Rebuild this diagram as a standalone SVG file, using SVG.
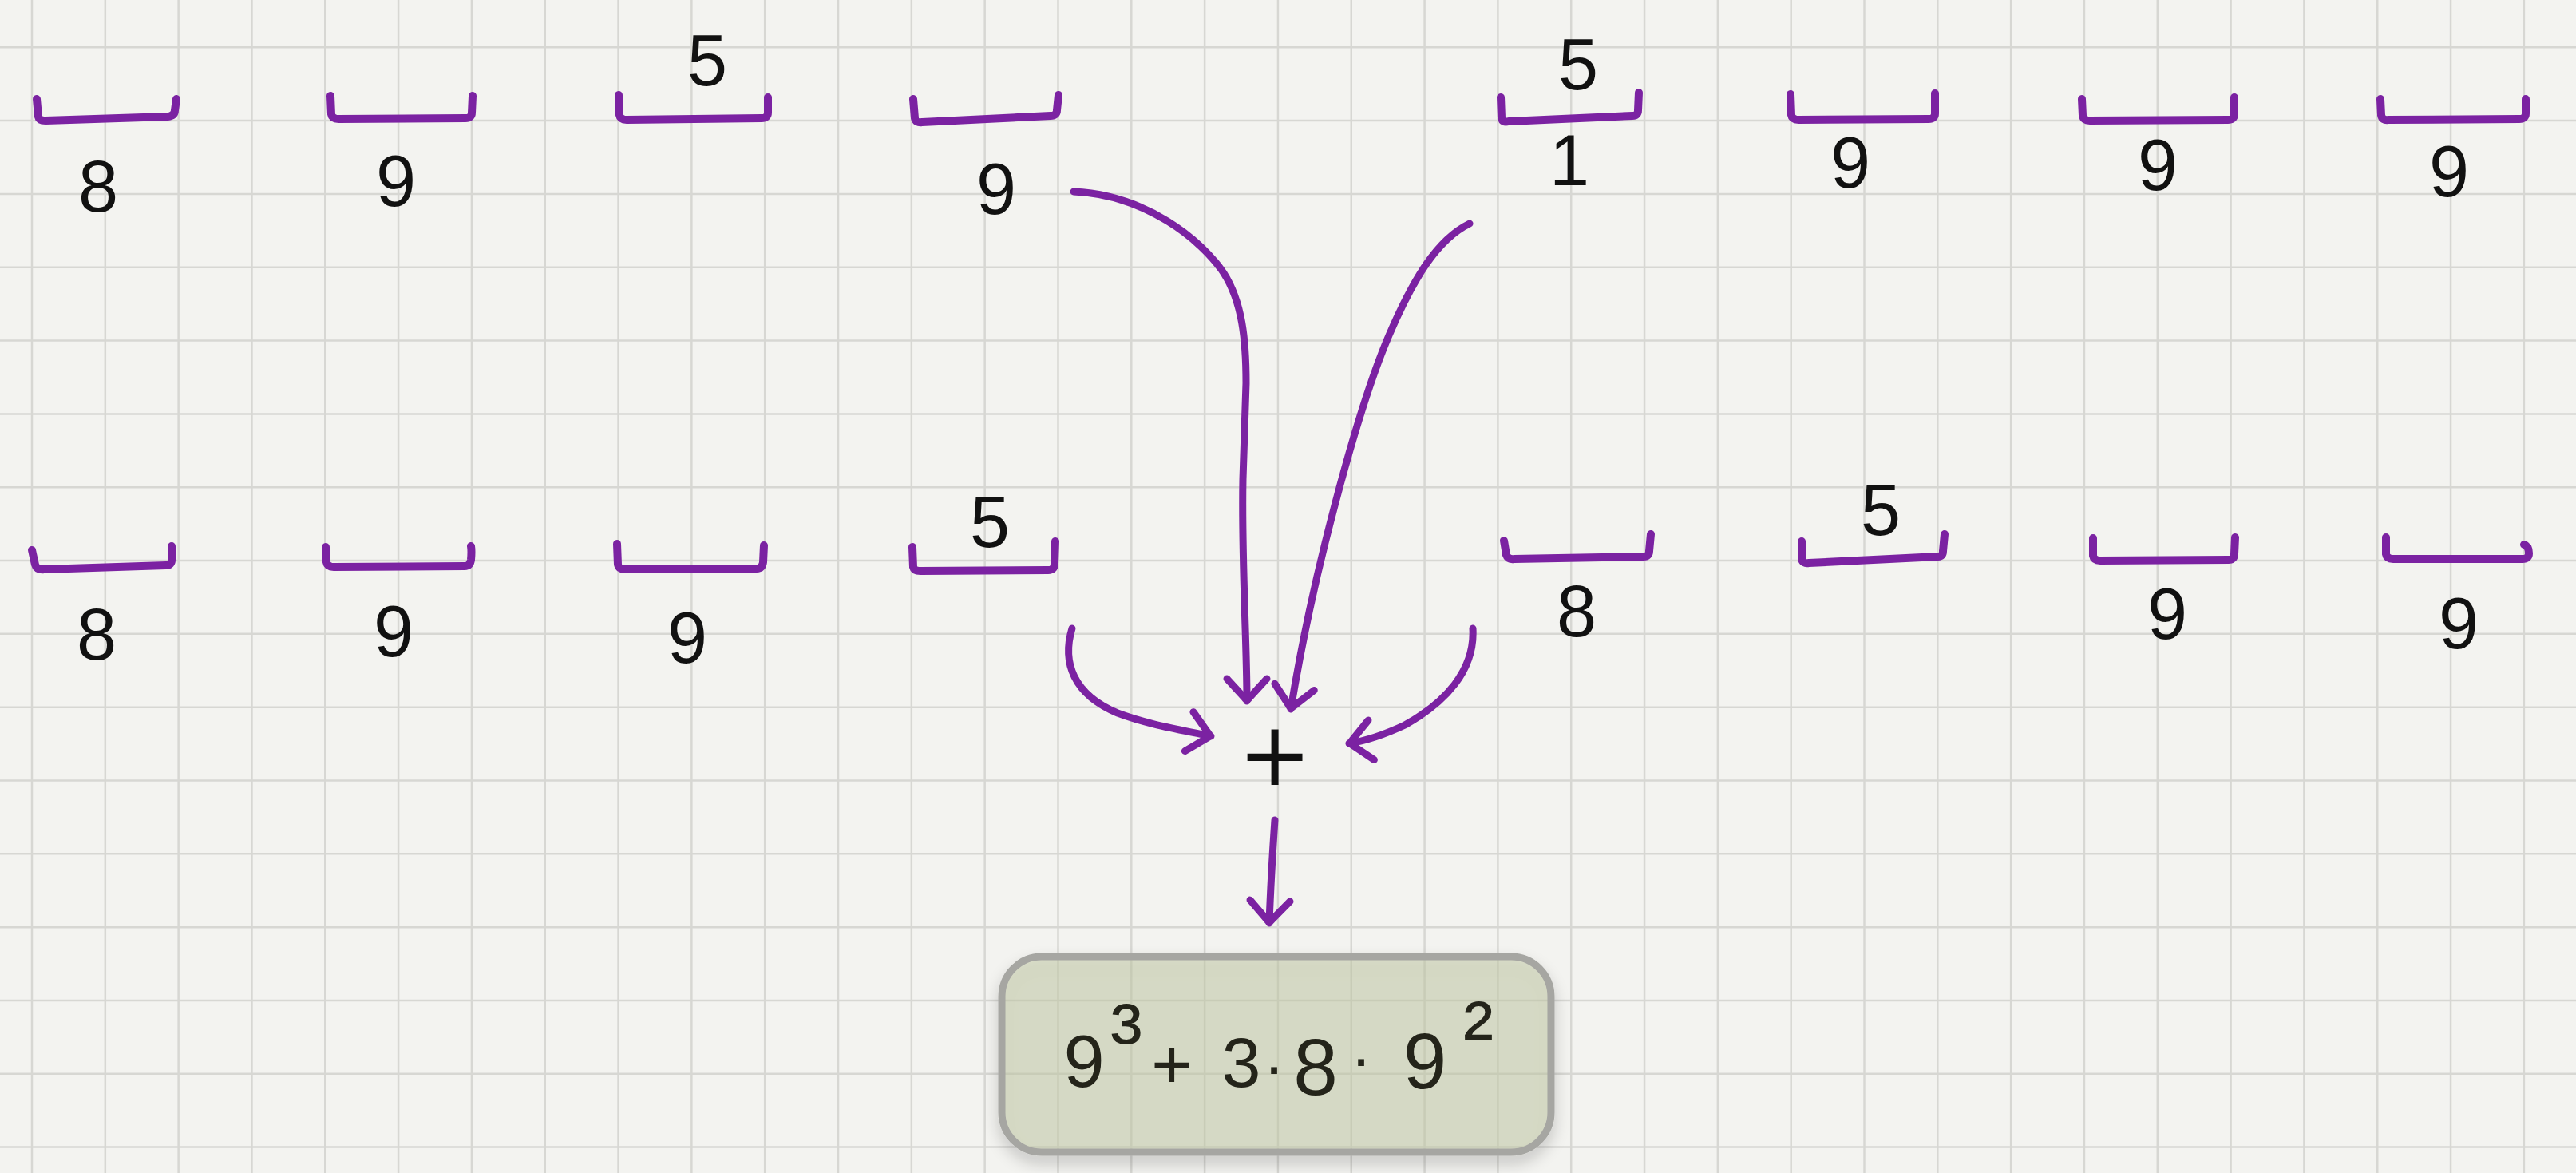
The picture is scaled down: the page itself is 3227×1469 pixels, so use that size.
<svg xmlns="http://www.w3.org/2000/svg" width="3227" height="1469" viewBox="0 0 3227 1469">
<style>
.grid{stroke:#d7d7d3;stroke-width:2.5;fill:none}
.br{fill:none;stroke:#7b22a2;stroke-width:10;stroke-linecap:round;stroke-linejoin:round}
.d{font-family:"Liberation Sans",Arial,sans-serif;fill:#111;text-anchor:middle;font-size:90px}
.con{fill:none;stroke:#7b22a2;stroke-width:9;stroke-linecap:round;stroke-linejoin:round}
.op{font-family:"DejaVu Sans",sans-serif;fill:#111;text-anchor:middle;font-size:110px}
.bx{fill:#c5cca8;fill-opacity:0.48;stroke:#a6a6a2;stroke-width:9}
.bt{font-family:"Liberation Sans",Arial,sans-serif;fill:#24241a;text-anchor:middle}
</style>
<defs>
<marker id="ah" markerUnits="userSpaceOnUse" orient="auto" refX="0" refY="0" markerWidth="80" markerHeight="80" viewBox="-40 -40 80 80" overflow="visible">
<path d="M -28,-25 L -4,-3 Q 0,0 -4,3 L -28,25" fill="none" stroke="#7b22a2" stroke-width="9" stroke-linecap="round" stroke-linejoin="round"/>
</marker>
<filter id="sh" x="-10%" y="-20%" width="120%" height="150%">
<feDropShadow dx="0" dy="10" stdDeviation="9" flood-color="#000" flood-opacity="0.22"/>
</filter>
</defs>
<rect x="0" y="0" width="3227" height="1469" fill="#f3f3f0"/>
<g id="grid">
<path class="grid" d="M40,0V1469M131.82,0V1469M223.64,0V1469M315.46,0V1469M407.28,0V1469M499.1,0V1469M590.92,0V1469M682.74,0V1469M774.56,0V1469M866.38,0V1469M958.2,0V1469M1050.02,0V1469M1141.84,0V1469M1233.66,0V1469M1325.48,0V1469M1417.3,0V1469M1509.12,0V1469M1600.94,0V1469M1692.76,0V1469M1784.58,0V1469M1876.4,0V1469M1968.22,0V1469M2060.04,0V1469M2151.86,0V1469M2243.68,0V1469M2335.5,0V1469M2427.32,0V1469M2519.14,0V1469M2610.96,0V1469M2702.78,0V1469M2794.6,0V1469M2886.42,0V1469M2978.24,0V1469M3070.06,0V1469M3161.88,0V1469"/>
<path class="grid" d="M0,59.3H3227M0,151.12H3227M0,242.94H3227M0,334.76H3227M0,426.58H3227M0,518.4H3227M0,610.22H3227M0,702.04H3227M0,793.86H3227M0,885.68H3227M0,977.5H3227M0,1069.32H3227M0,1161.14H3227M0,1252.96H3227M0,1344.78H3227M0,1436.6H3227"/>
</g>

<g id="r1c1"><path class="br" d="M46,124 L48,146 Q49,151 57,151 L210,146 Q219,145 219,138 L221,124"/><text class="d" x="123" y="265">8</text></g>
<g id="r1c2"><path class="br" d="M414,120 L415,143 Q416,149 424,149 L583,148 Q591,148 591,141 L592,120"/><text class="d" x="496" y="258">9</text></g>
<g id="r1c3"><path class="br" d="M775,119 L776,144 Q777,150 785,150 L954,148 Q962,148 962,141 L962,122"/><text class="d" x="886" y="107" font-size="88">5</text></g>
<g id="r1c4"><path class="br" d="M1144,124 L1146,148 Q1147,154 1155,153 L1316,145 Q1324,145 1324,138 L1326,119"/><text class="d" x="1248" y="268" font-size="100">9</text></g>
<g id="r1c5"><path class="br" d="M1880,122 L1881,148 Q1882,154 1890,152 L2045,145 Q2052,145 2052,138 L2053,116"/><text class="d" x="1977" y="112" font-size="100">5</text><text class="d" x="1966" y="232" font-size="55">1</text></g>
<g id="r1c6"><path class="br" d="M2243,118 L2244,144 Q2245,150 2253,150 L2416,149 Q2424,149 2424,142 L2424,117"/><text class="d" x="2318" y="235" font-size="80">9</text></g>
<g id="r1c7"><path class="br" d="M2608,124 L2609,145 Q2610,151 2618,151 L2791,150 Q2799,150 2799,143 L2799,122"/><text class="d" x="2703" y="238" font-size="80">9</text></g>
<g id="r1c8"><path class="br" d="M2982,124 L2983,144 Q2984,151 2992,150 L3156,149 Q3164,149 3164,142 L3164,124"/><text class="d" x="3068" y="246" font-size="88">9</text></g>

<g id="r2c1"><path class="br" d="M40,689 L44,707 Q46,714 55,713 L208,708 Q215,708 215,701 L215,684"/><text class="d" x="121" y="826" font-size="100">8</text></g>
<g id="r2c2"><path class="br" d="M408,685 L409,704 Q410,710 418,710 L582,709 Q589,709 590,701 Q591,690 590,684"/><text class="d" x="493" y="822" font-size="92">9</text></g>
<g id="r2c3"><path class="br" d="M773,681 L774,707 Q775,713 783,713 L948,712 Q955,712 956,704 L957,683"/><text class="d" x="861" y="830" font-size="110">9</text></g>
<g id="r2c4"><path class="br" d="M1143,685 L1144,710 Q1145,715 1153,715 L1313,714 Q1321,714 1321,706 L1322,678"/><text class="d" x="1240" y="685" font-size="92">5</text></g>
<g id="r2c5"><path class="br" d="M1884,677 L1887,695 Q1889,701 1897,700 L2059,697 Q2066,697 2066,690 L2068,669"/><text class="d" x="1975" y="797" font-size="86">8</text></g>
<g id="r2c6"><path class="br" d="M2257,678 L2257,700 Q2258,706 2266,705 L2428,697 Q2434,697 2434,690 L2436,669"/><text class="d" x="2356" y="670" font-size="92">5</text></g>
<g id="r2c7"><path class="br" d="M2622,674 L2622,696 Q2623,702 2631,702 L2792,701 Q2799,701 2799,694 L2800,673"/><text class="d" x="2715" y="800" font-size="80">9</text></g>
<g id="r2c8"><path class="br" d="M2989,673 L2989,694 Q2990,700 2998,700 L3160,700 Q3168,700 3168,693 Q3168,684 3162,682"/><text class="d" x="3080" y="812" font-size="100">9</text></g>

<g id="plus"><text class="op" x="1597" y="983">+</text></g>

<g id="result">
<rect class="bx" x="1255" y="1198" width="688" height="245" rx="50" filter="url(#sh)"/>
<text class="bt">
<tspan x="1358" y="1361" font-size="92">9</tspan><tspan x="1411" y="1340" font-size="120">³</tspan><tspan x="1468" y="1363" font-size="88">+</tspan><tspan x="1555" y="1361" font-size="88">3</tspan><tspan x="1596" y="1362" font-size="80">·</tspan><tspan x="1648" y="1371" font-size="100">8</tspan><tspan x="1705" y="1352" font-size="80">·</tspan><tspan x="1785" y="1363" font-size="98">9</tspan><tspan x="1852" y="1334" font-size="115">²</tspan>
</text>
</g>

<g id="connectors">
<path class="con" marker-end="url(#ah)" d="M1345,240 C1435,244 1505,300 1533,342 C1556,378 1561,425 1561,480 L1557,600 C1555,700 1562,800 1562,878"/>
<path class="con" marker-end="url(#ah)" d="M1841,280 C1800,300 1770,350 1740,420 C1710,490 1680,600 1660,680 C1645,740 1630,810 1617,888"/>
<path class="con" marker-end="url(#ah)" d="M1343,787 C1330,830 1345,870 1400,893 C1440,908 1480,914 1517,922"/>
<path class="con" marker-end="url(#ah)" d="M1845,787 C1848,840 1810,880 1760,908 C1730,922 1710,928 1690,931"/>
<path class="con" marker-end="url(#ah)" d="M1597,1027 Q1592,1100 1590,1156"/>
</g>
</svg>
